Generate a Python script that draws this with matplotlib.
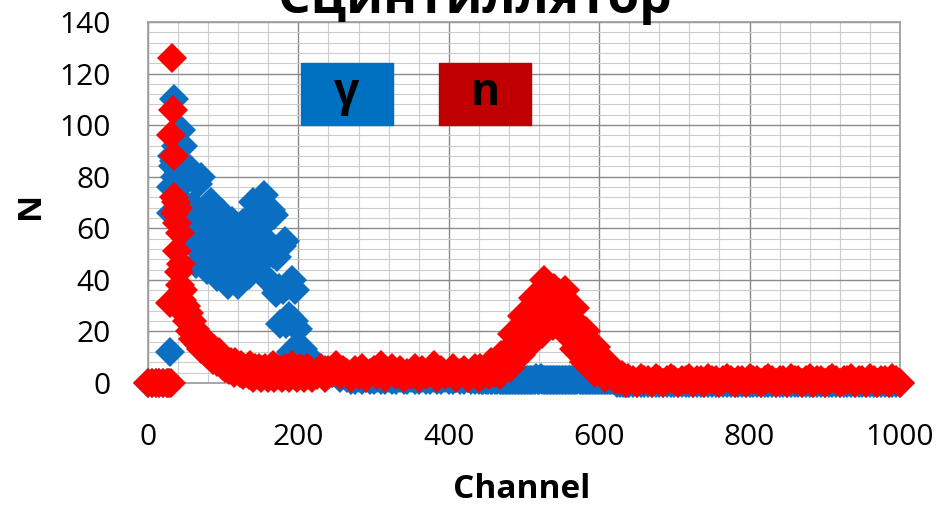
import matplotlib
matplotlib.use("Agg")
import matplotlib.pyplot as plt
from matplotlib.patches import Rectangle
from matplotlib.ticker import MultipleLocator

plt.rcParams['font.family'] = ['Open Sans', 'DejaVu Sans']

# каналы: плотнее там, где точки сливаются в пятна
ch_a = [0, 5, 10, 15, 20, 25, 28, 29, 30, 31, 32, 33, 34, 35, 36, 37, 38, 39, 40,
        41, 42, 43, 44, 45, 46, 48]
channel = (ch_a + list(range(50, 221, 2)) + list(range(225, 436, 5))
           + list(range(440, 641, 2)) + list(range(645, 1001, 5)))

# гамма (синие)
gamma_a = [0, 0, 0, 0, 0, 0, 0, 12, 66, 76, 88, 84, 110, 86, 80, 92, 78, 86, 72,
           82, 76, 84, 98, 80, 92, 82]
gamma_b = [60, 79, 65, 83, 54, 69, 59, 46, 77, 61,
           80, 51, 65, 55, 44, 69, 56, 70, 47, 59,
           50, 41, 64, 52, 66, 44, 56, 47, 38, 61,
           49, 63, 42, 54, 46, 38, 60, 49, 62, 44,
           55, 49, 42, 64, 54, 70, 49, 62, 54, 46,
           69, 57, 73, 49, 63, 53, 39, 67, 50, 65,
           35, 49, 37, 23, 53, 36, 55, 23, 38, 26,
           12, 40, 24, 36, 14, 21, 12, 6, 13, 8,
           11, 5, 8, 5, 3, 8]
gamma_c = [7, 4, 5, 3, 4, 6, 2, 3,
           2, 1, 1, 2, 1, 2, 1, 1, 2, 1,
           1, 2, 1, 1, 2, 1, 1, 2, 1, 1,
           2, 1, 1, 2, 1, 1, 2, 1, 1, 2,
           1, 1, 2, 1, 1]
gamma_d = [1, 2, 1, 1, 2, 1, 1, 2, 1, 1,
           2, 1, 1, 2, 1, 1, 1, 1, 1, 1,
           1, 1, 1, 1, 1, 1, 1, 1, 1, 1,
           1, 1, 1, 1, 1, 1, 1, 1, 2, 1,
           1, 2, 1, 1, 1, 1, 1, 1, 1, 1,
           1, 1, 1, 1, 1, 1, 1, 1, 1, 1,
           1, 1, 1, 1, 1, 1, 2, 1, 1, 1,
           1, 1, 1, 1, 1, 1, 1, 1, 1, 1,
           1, 1, 1, 1, 1, 1, 1, 1, 1, 1,
           1, 1, 0, 1, 0, 1, 0, 0, 0, 0,
           0]
gamma_e = [0] * 72

# нейтроны (красные)
n_a = [0, 0, 0, 0, 0, 0, 0, 31, 0, 96, 126, 106, 88, 72, 66, 70, 62, 51, 68,
       43, 58, 38, 46, 32, 36, 27]
n_b = [30, 24, 27, 20, 24, 17, 21, 19, 15, 18,
       13, 16, 14, 12, 16, 11, 14, 12, 9, 13,
       10, 8, 12, 9, 7, 10, 6, 9, 7, 5,
       8, 6, 4, 8, 5, 6, 4, 7, 3, 6,
       4, 5, 3, 7, 4, 2, 6, 4, 3, 6,
       2, 5, 3, 6, 4, 2, 5, 3, 7, 2,
       4, 6, 3, 5, 2, 4, 6, 3, 5, 2,
       4, 7, 3, 5, 2, 4, 6, 3, 5, 2,
       4, 6, 3, 5, 2, 4]
n_c = [3, 6, 2, 5, 4, 7, 3, 5,
       4, 2, 5, 3, 6, 2, 4, 5, 3, 7,
       2, 4, 6, 3, 5, 2, 4, 3, 6, 2,
       5, 3, 4, 7, 2, 5, 3, 4, 6, 2,
       4, 5, 2, 3, 6]
n_d = [2, 6, 4, 3, 5, 4, 6, 3, 8, 5,
       4, 8, 5, 8, 3, 11, 8, 6, 12, 9,
       12, 6, 19, 14, 11, 19, 14, 19, 11, 26,
       20, 16, 26, 20, 25, 15, 33, 25, 21, 32,
       25, 31, 19, 40, 30, 24, 34, 26, 31, 22,
       37, 30, 25, 35, 27, 32, 20, 36, 27, 20,
       30, 21, 25, 13, 29, 20, 14, 22, 14, 17,
       8, 20, 13, 8, 15, 9, 12, 4, 14, 8,
       5, 9, 5, 7, 2, 8, 4, 3, 5, 3,
       4, 1, 4, 2, 1, 3, 2, 2, 0, 2,
       1]
n_e = [1, 0, 2, 1, 1, 0, 2, 1, 0, 1,
       2, 1, 0, 1, 1, 2, 0, 1, 1, 0,
       2, 1, 1, 0, 1, 2, 1, 0, 1, 1,
       0, 2, 1, 1, 0, 1, 2, 1, 0, 1,
       1, 0, 2, 1, 1, 0, 1, 2, 0, 1,
       1, 0, 1, 2, 1, 0, 1, 1, 2, 0,
       1, 1, 0, 2, 1, 0, 1, 1, 0, 2,
       1, 0]

gamma = gamma_a + gamma_b + gamma_c + gamma_d + gamma_e
neutron = n_a + n_b + n_c + n_d + n_e

fig = plt.figure(figsize=(9.36, 5.05), dpi=100)
ax = fig.add_axes([0.1581, 0.2416, 0.8034, 0.7149])

ax.plot(channel, gamma, 'D', ms=15, color='#0A6FC2', mec='#0A6FC2', mew=0,
        clip_on=False, zorder=3)
ax.plot(channel, neutron, 'D', ms=15, color='#FF0000', mec='#FF0000', mew=0,
        clip_on=False, zorder=4)

ax.set_xlim(0, 1000)
ax.set_ylim(0, 140)
ax.xaxis.set_major_locator(MultipleLocator(200))
ax.xaxis.set_minor_locator(MultipleLocator(40))
ax.yaxis.set_major_locator(MultipleLocator(20))
ax.yaxis.set_minor_locator(MultipleLocator(4))
ax.grid(which='major', color='#8a8a8a', lw=1.0, zorder=0)
ax.grid(which='minor', color='#cccccc', lw=0.8, zorder=0)
ax.set_axisbelow(True)
ax.tick_params(which='both', length=0)
ax.tick_params(axis='x', pad=29, labelsize=21.5)
ax.tick_params(axis='y', pad=27, labelsize=21.5)
for s in ax.spines.values():
    s.set_color('#a0a0a0')
    s.set_linewidth(1.3)

# легенда в виде цветных плашек
ax.add_patch(Rectangle((0.2035, 0.7147), 0.1223, 0.1717, transform=ax.transAxes,
                       color='#0070C0', zorder=5, clip_on=False))
ax.text(0.2035 + 0.1223 / 2, 0.7147 + 0.1717 / 2, 'γ', transform=ax.transAxes,
        ha='center', va='center', fontsize=32, fontweight='bold', zorder=6)
ax.add_patch(Rectangle((0.387, 0.7147), 0.1223, 0.1717, transform=ax.transAxes,
                       color='#C00000', zorder=5, clip_on=False))
ax.text(0.387 + 0.1223 / 2, 0.7147 + 0.1717 / 2, 'n', transform=ax.transAxes,
        ha='center', va='center', fontsize=32, fontweight='bold', zorder=6)

fig.text(475 / 936, 1 - 13 / 505, 'Сцинтиллятор', ha='center', va='baseline',
         fontsize=37, fontweight='bold')
fig.text(522 / 936, 1 - 490 / 505, 'Channel', ha='center', va='center',
         fontsize=24, fontweight='bold')
fig.text(30 / 936, 1 - 205 / 505, 'N', ha='center', va='center', rotation=90,
         fontsize=24, fontweight='bold')

fig.savefig('out.png', dpi=100)
